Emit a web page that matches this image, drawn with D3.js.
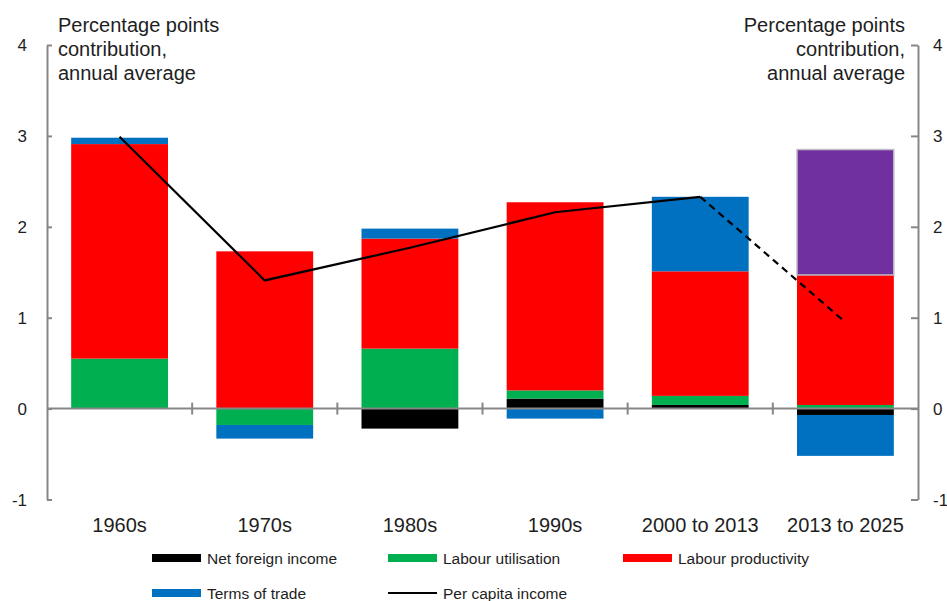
<!DOCTYPE html>
<html>
<head>
<meta charset="utf-8">
<script src="https://cdn.jsdelivr.net/npm/d3@7"></script>
<style>
  html, body { margin: 0; padding: 0; background: #fff; }
  svg { display: block; font-family: "Liberation Sans", Arial, sans-serif; }
</style>
</head>
<body>
<svg id="chart" width="947" height="601"></svg>
<script>
// Contributions to per capita income growth, percentage points, annual average
const categories = ["1960s", "1970s", "1980s", "1990s", "2000 to 2013", "2013 to 2025"];
const netForeignIncome   = [0.00,  0.00, -0.22, 0.11, 0.04, -0.07];
const labourUtilisation  = [0.55, -0.18,  0.66, 0.09, 0.10,  0.04];
const labourProductivity = [2.36,  1.73,  1.21, 2.07, 1.37,  1.43];
const productivityGap    = [0.00,  0.00,  0.00, 0.00, 0.00,  1.38];
const termsOfTrade       = [0.07, -0.15,  0.11, -0.11, 0.82, -0.45];
const perCapitaIncome    = [2.99,  1.41,  1.77, 2.16, 2.33,  0.95];
const yTicks = [-1, 0, 1, 2, 3, 4];
const titleLines = ["Percentage points", "contribution,", "annual average"];

const series = [
  { key: "nfi", label: "Net foreign income",  values: netForeignIncome,   color: "#000000" },
  { key: "lu",  label: "Labour utilisation",  values: labourUtilisation,  color: "#00B050" },
  { key: "lp",  label: "Labour productivity", values: labourProductivity, color: "#FF0000" },
  { key: "gap", label: null,                  values: productivityGap,    color: "#7030A0", stroke: "#c0bcc4" },
  { key: "tot", label: "Terms of trade",      values: termsOfTrade,       color: "#0070C0" }
];

const rows = categories.map((c, i) => {
  const r = { cat: c };
  series.forEach(s => { r[s.key] = s.values[i]; });
  return r;
});

const svg = d3.select("#chart");
const left = 47, right = 918;
const axisColor = "#878787";
const textColor = "#1e1e1e";

const x = d3.scaleBand().domain(categories).range([left, right])
  .paddingInner(0.333).paddingOuter(0.1665);
const y = d3.scaleLinear().domain([-1, 4]).range([499.5, 45]);

// Stacked bars (positive and negative parts stacked away from zero)
const stack = d3.stack().keys(series.map(s => s.key)).offset(d3.stackOffsetDiverging);
const stacked = stack(rows);

const barG = svg.append("g");
stacked.forEach((layer, li) => {
  const s = series[li];
  barG.selectAll(null).data(layer.filter(d => d[1] !== d[0])).enter().append("rect")
    .attr("x", d => x(d.data.cat))
    .attr("width", x.bandwidth())
    .attr("y", d => y(Math.max(d[0], d[1])))
    .attr("height", d => Math.abs(y(d[0]) - y(d[1])))
    .attr("fill", s.color)
    .attr("stroke", s.stroke || "none")
    .attr("stroke-width", s.stroke ? 1.5 : 0);
});

const tickText = d => String(d);

// Left axis
const leftAxis = svg.append("g").attr("transform", `translate(${left},0)`)
  .call(d3.axisRight(y).tickValues(yTicks).tickSize(5).tickSizeOuter(0).tickFormat(tickText));
leftAxis.selectAll("text").attr("x", -20).attr("text-anchor", "end");

// Right axis
const rightAxis = svg.append("g").attr("transform", `translate(${right},0)`)
  .call(d3.axisLeft(y).tickValues(yTicks).tickSize(7).tickSizeOuter(0).tickFormat(tickText));
rightAxis.selectAll("text").attr("x", 15).attr("text-anchor", "start");

[leftAxis, rightAxis].forEach(g => {
  g.select(".domain").attr("stroke", axisColor).attr("stroke-width", 2);
  g.selectAll(".tick line").attr("stroke", axisColor).attr("stroke-width", 2);
  g.selectAll("text").attr("fill", textColor).style("font-size", "17px")
    .attr("dy", "0.35em");
});

// Zero line with category separators
svg.append("line")
  .attr("x1", left).attr("x2", right)
  .attr("y1", y(0)).attr("y2", y(0))
  .attr("stroke", axisColor).attr("stroke-width", 2);

const step = x.step();
const separators = categories.slice(0, -1).map(c => x(c) + x.bandwidth() + (step - x.bandwidth()) / 2);
svg.selectAll(null).data(separators).enter().append("line")
  .attr("x1", d => d).attr("x2", d => d)
  .attr("y1", y(0) - 6).attr("y2", y(0) + 6)
  .attr("stroke", axisColor).attr("stroke-width", 2);

// Category labels
svg.selectAll(null).data(categories).enter().append("text")
  .attr("x", d => x(d) + x.bandwidth() / 2)
  .attr("y", 532)
  .attr("text-anchor", "middle")
  .attr("fill", textColor)
  .style("font-size", "20px")
  .text(d => d);

// Per capita income line: solid for history, dashed for the projection
const pts = categories.map((c, i) => [x(c) + x.bandwidth() / 2, y(perCapitaIncome[i])]);
const line = d3.line();
svg.append("path")
  .attr("d", line(pts.slice(0, 5)))
  .attr("fill", "none").attr("stroke", "#000").attr("stroke-width", 2.2);
svg.append("path")
  .attr("d", line(pts.slice(4)))
  .attr("fill", "none").attr("stroke", "#000").attr("stroke-width", 2.2)
  .attr("stroke-dasharray", "7,5");

// Axis titles
const titleLeft = svg.append("text").attr("fill", textColor).style("font-size", "20px");
titleLines.forEach((t, i) => {
  titleLeft.append("tspan").attr("x", 58).attr("y", 32 + i * 24).text(t);
});
const titleRight = svg.append("text").attr("fill", textColor).style("font-size", "20px")
  .attr("text-anchor", "end");
titleLines.forEach((t, i) => {
  titleRight.append("tspan").attr("x", 905).attr("y", 32 + i * 24).text(t);
});

// Legend
const legendItems = [
  { label: "Net foreign income",  color: "#000000", type: "bar",  col: 0, row: 0 },
  { label: "Labour utilisation",  color: "#00B050", type: "bar",  col: 1, row: 0 },
  { label: "Labour productivity", color: "#FF0000", type: "bar",  col: 2, row: 0 },
  { label: "Terms of trade",      color: "#0070C0", type: "bar",  col: 0, row: 1 },
  { label: "Per capita income",   color: "#000000", type: "line", col: 1, row: 1 }
];
const colX = [152, 388, 623];
const rowY = [558, 593];
const lg = svg.append("g");
legendItems.forEach(it => {
  const gx = colX[it.col], gy = rowY[it.row];
  if (it.type === "bar") {
    lg.append("rect").attr("x", gx).attr("y", gy - 4).attr("width", 49).attr("height", 8)
      .attr("fill", it.color);
  } else {
    lg.append("line").attr("x1", gx).attr("x2", gx + 49).attr("y1", gy).attr("y2", gy)
      .attr("stroke", it.color).attr("stroke-width", 2);
  }
  lg.append("text").attr("x", gx + 55).attr("y", gy).attr("dy", "0.36em")
    .attr("fill", textColor).style("font-size", "15.5px").text(it.label);
});
</script>
</body>
</html>
